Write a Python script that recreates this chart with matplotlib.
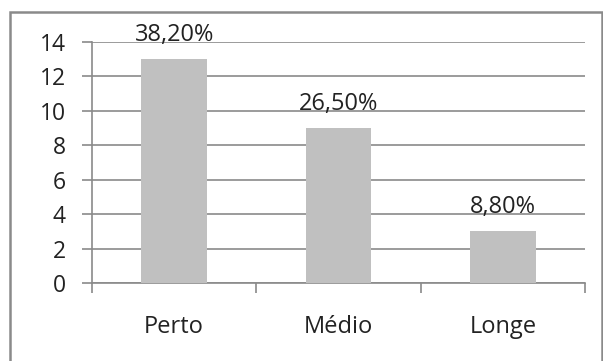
import matplotlib.pyplot as plt
from matplotlib.patches import Rectangle

categories = ["Perto", "Médio", "Longe"]
values = [13, 9, 3]
labels = ["38,20%", "26,50%", "8,80%"]
yticks = [0, 2, 4, 6, 8, 10, 12, 14]

plt.rcParams["font.family"] = ["Open Sans", "DejaVu Sans"]
line_col = "#8a8a8a"

fig = plt.figure(figsize=(6.03, 3.61), dpi=100)
ax = fig.add_axes([92 / 603, 1 - 283 / 361, 493 / 603, 241 / 361])

x = range(len(categories))
bars = ax.bar(x, values, width=0.4, color="#c0c0c0", zorder=3)

# percentage labels above each bar
for b, lab in zip(bars, labels):
    ax.annotate(lab, (b.get_x() + b.get_width() / 2, b.get_height()),
                xytext=(0, 13), textcoords="offset points",
                ha="center", va="baseline", fontsize=17, color="#222222", zorder=4)

ax.set_xlim(-0.5, 2.5)
ax.set_ylim(0, 14)
ax.set_yticks(yticks)
ax.set_yticklabels([str(t) for t in yticks])
ax.yaxis.grid(True, color=line_col, linewidth=1.2, zorder=0)

ax.set_xticks([0, 1, 2])
ax.set_xticklabels(categories)
ax.set_xticks([-0.5, 0.5, 1.5, 2.5], minor=True)
ax.tick_params(axis="x", which="major", length=0, pad=23, labelsize=17, colors="#222222")
ax.tick_params(axis="x", which="minor", length=7, width=1.2, color=line_col, direction="out")
ax.tick_params(axis="y", length=7, width=1.2, color=line_col, pad=12, labelsize=16.5, labelcolor="#222222")

for s in ["top", "right"]:
    ax.spines[s].set_visible(False)
for s in ["left", "bottom"]:
    ax.spines[s].set_color(line_col)
    ax.spines[s].set_linewidth(1.2)

# outer chart frame (cut off at right and bottom like the original)
fig.patches.append(Rectangle((10 / 603, -0.1), 592 / 603, 1.1 - 12 / 361,
                             transform=fig.transFigure, fill=False,
                             edgecolor="#8a8a8a", linewidth=1.8))

fig.savefig("out.png", dpi=100)
